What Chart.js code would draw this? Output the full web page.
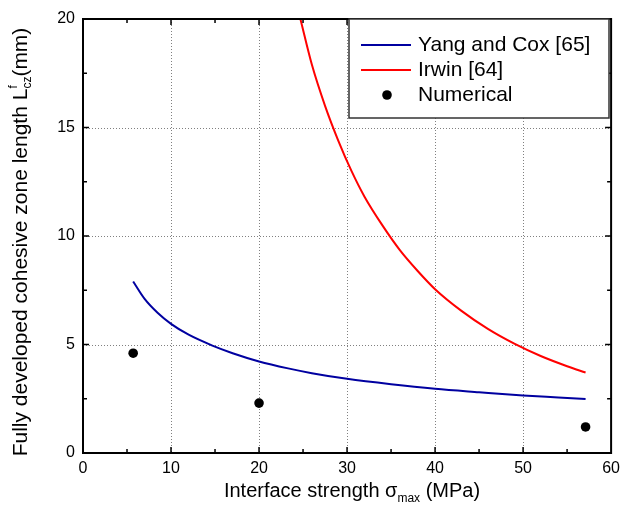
<!DOCTYPE html>
<html>
<head>
<meta charset="utf-8">
<script src="https://cdn.jsdelivr.net/npm/chart.js@4.4.0/dist/chart.umd.min.js"></script>
<style>
  html, body { margin: 0; padding: 0; background: #fff; }
  #wrap { width: 626px; height: 516px; }
</style>
</head>
<body>
<div id="wrap"><canvas id="grafico" width="626" height="516"></canvas></div>
<script>
// Yang and Cox [65]
const yangX = [5.7, 7, 8.5, 10, 12, 14.7, 17, 20, 23.3, 26, 30, 35, 40, 45, 50, 54, 57.1];
const yangY = [7.9, 7.1, 6.45, 5.95, 5.45, 4.95, 4.6, 4.22, 3.9, 3.68, 3.42, 3.17, 2.96, 2.8, 2.65, 2.56, 2.49];
// Irwin [64]
const irwinX = [24.7, 26, 27.5, 29, 30.5, 32, 34, 36, 38, 40, 43, 46, 49, 52, 55, 57.1];
const irwinY = [20, 17.9, 16.0, 14.4, 13.0, 11.8, 10.5, 9.35, 8.4, 7.55, 6.55, 5.72, 5.04, 4.47, 4.0, 3.71];
// Numerical
const numX = [5.7, 20, 57.1];
const numY = [4.6, 2.3, 1.2];

const xTicks = [0, 10, 20, 30, 40, 50, 60];
const yTicks = [0, 5, 10, 15, 20];

const fuente = '"Liberation Sans", Arial, sans-serif';

function puntos(xs, ys) {
    return xs.map((v, i) => ({ x: v, y: ys[i] }));
}

// texto con subindices: [texto, tamaño, desplazamiento, avanza]
function textoRico(ctx, partes, x, y) {
    let ancho = 0;
    partes.forEach(p => {
        ctx.font = p[1] + 'px ' + fuente;
        p.w = ctx.measureText(p[0]).width;
        if (p[3] !== false) ancho += p.w;
    });
    let cx = x - ancho / 2;
    let ultimo = 0;
    partes.forEach(p => {
        ctx.font = p[1] + 'px ' + fuente;
        ctx.fillText(p[0], cx, y + p[2]);
        if (p[3] === false) { ultimo = p.w; }
        else { cx += Math.max(p.w, ultimo); ultimo = 0; }
    });
}

const marco = {
    id: 'marco',
    beforeDatasetsDraw(chart) {
        const { ctx, chartArea: a, scales: { x, y } } = chart;
        ctx.save();
        ctx.strokeStyle = '#808080';
        ctx.lineWidth = 1;
        ctx.setLineDash([1, 2]);
        xTicks.slice(1, -1).forEach(v => {
            const px = Math.round(x.getPixelForValue(v)) + 0.5;
            ctx.beginPath(); ctx.moveTo(px, a.top); ctx.lineTo(px, a.bottom); ctx.stroke();
        });
        yTicks.slice(1, -1).forEach(v => {
            const py = Math.round(y.getPixelForValue(v)) + 0.5;
            ctx.beginPath(); ctx.moveTo(a.left, py); ctx.lineTo(a.right, py); ctx.stroke();
        });
        ctx.restore();
    },
    afterDatasetsDraw(chart) {
        const { ctx, chartArea: a, scales: { x, y } } = chart;
        ctx.save();
        ctx.strokeStyle = '#000';
        ctx.lineWidth = 2;
        ctx.strokeRect(a.left, a.top, a.right - a.left, a.bottom - a.top);

        // marcas hacia adentro, mayores y menores
        ctx.lineWidth = 1.5;
        for (let v = 5; v < 60; v += 5) {
            const px = x.getPixelForValue(v);
            const l = v % 10 === 0 ? 6 : 4;
            ctx.beginPath();
            ctx.moveTo(px, a.bottom); ctx.lineTo(px, a.bottom - l);
            ctx.moveTo(px, a.top); ctx.lineTo(px, a.top + l);
            ctx.stroke();
        }
        for (let v = 2.5; v < 20; v += 2.5) {
            const py = y.getPixelForValue(v);
            const l = v % 5 === 0 ? 6 : 4;
            ctx.beginPath();
            ctx.moveTo(a.left, py); ctx.lineTo(a.left + l, py);
            ctx.moveTo(a.right, py); ctx.lineTo(a.right - l, py);
            ctx.stroke();
        }

        // leyenda
        const caja = { x: 349, y: a.top, w: 260, h: 99 };
        ctx.fillStyle = '#fff';
        ctx.fillRect(caja.x, caja.y, caja.w, caja.h);
        ctx.strokeStyle = '#333';
        ctx.lineWidth = 1.5;
        ctx.strokeRect(caja.x, caja.y, caja.w, caja.h);
        ctx.font = '21px ' + fuente;
        ctx.textBaseline = 'middle';
        chart.data.datasets.forEach((ds, i) => {
            const fy = caja.y + 26 + i * 25;
            if (ds.showLine) {
                ctx.strokeStyle = ds.borderColor;
                ctx.lineWidth = 2;
                ctx.beginPath(); ctx.moveTo(361, fy); ctx.lineTo(411, fy); ctx.stroke();
            } else {
                ctx.fillStyle = ds.backgroundColor;
                ctx.beginPath(); ctx.arc(387, fy, 4.8, 0, Math.PI * 2); ctx.fill();
            }
            ctx.fillStyle = '#000';
            ctx.fillText(ds.label, 418, fy);
        });

        // titulos de ejes
        ctx.textBaseline = 'alphabetic';
        ctx.fillStyle = '#000';
        textoRico(ctx, [
            ['Interface strength \u03c3', 20, 0],
            ['max', 12, 5],
            [' (MPa)', 20, 0]
        ], 352, 497);

        ctx.translate(27, 242);
        ctx.rotate(-Math.PI / 2);
        textoRico(ctx, [
            ['Fully developed cohesive zone length L', 21, 0],
            ['f', 12, -10, false],
            ['cz', 12, 4],
            ['(mm)', 21, 0]
        ], 0, 0);
        ctx.restore();
    }
};

const ctx = document.getElementById('grafico').getContext('2d');
const grafico = new Chart(ctx, {
    type: 'scatter',
    data: {
        datasets: [{
            label: 'Yang and Cox [65]',
            data: puntos(yangX, yangY),
            showLine: true,
            borderColor: '#0000a0',
            backgroundColor: '#0000a0',
            borderWidth: 2,
            pointRadius: 0,
            cubicInterpolationMode: 'monotone'
        }, {
            label: 'Irwin [64]',
            data: puntos(irwinX, irwinY),
            showLine: true,
            borderColor: '#ff0000',
            backgroundColor: '#ff0000',
            borderWidth: 2,
            pointRadius: 0,
            cubicInterpolationMode: 'monotone'
        }, {
            label: 'Numerical',
            data: puntos(numX, numY),
            showLine: false,
            backgroundColor: '#000',
            borderColor: '#000',
            pointRadius: 4.8,
            pointBorderWidth: 0
        }]
    },
    options: {
        responsive: false,
        animation: false,
        layout: { padding: { top: 19, right: 10, left: 0, bottom: 0 } },
        plugins: { legend: { display: false }, tooltip: { enabled: false } },
        scales: {
            x: {
                type: 'linear',
                min: 0, max: 60,
                afterBuildTicks: s => { s.ticks = xTicks.map(v => ({ value: v })); },
                afterFit: s => { s.height = 63; },
                grid: { display: false, drawTicks: false },
                border: { display: false },
                ticks: { color: '#000', padding: 6, font: { family: fuente, size: 16 }, maxRotation: 0 }
            },
            y: {
                type: 'linear',
                min: 0, max: 20,
                afterBuildTicks: s => { s.ticks = yTicks.map(v => ({ value: v })); },
                afterFit: s => { s.width = 83; },
                grid: { display: false, drawTicks: false },
                border: { display: false },
                ticks: { color: '#000', padding: 8, font: { family: fuente, size: 16 } }
            }
        }
    },
    plugins: [marco]
});
</script>
</body>
</html>
